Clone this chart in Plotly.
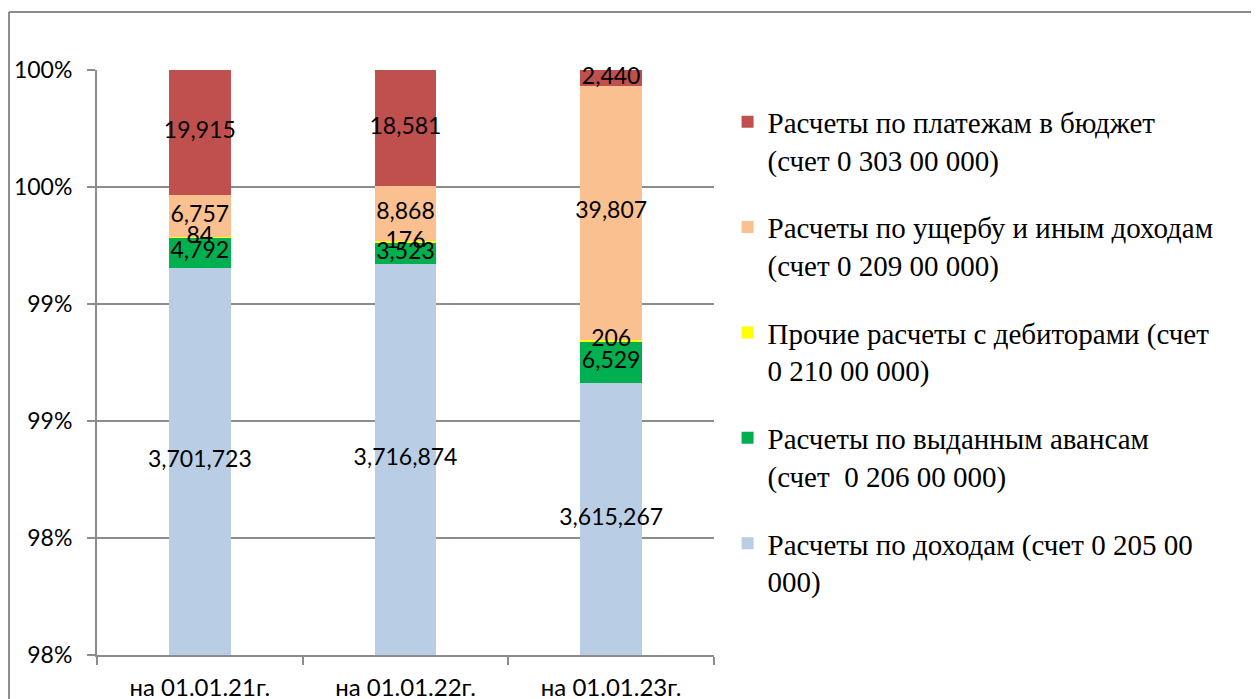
import numpy as np
import plotly.graph_objects as go

# data
dates = ["на 01.01.21г.", "на 01.01.22г.", "на 01.01.23г."]
income = [3701723, 3716874, 3615267]        # 0 205 00 000
advances = [4792, 3523, 6529]               # 0 206 00 000
other = [84, 176, 206]                      # 0 210 00 000
damage = [6757, 8868, 39807]                # 0 209 00 000
budget = [19915, 18581, 2440]               # 0 303 00 000

names = [
    "Расчеты по доходам (счет 0 205 00<br>000)",
    "Расчеты по выданным авансам<br>(счет  0 206 00 000)",
    "Прочие расчеты с дебиторами (счет<br>0 210 00 000)",
    "Расчеты по ущербу и иным доходам<br>(счет 0 209 00 000)",
    "Расчеты по платежам в бюджет<br>(счет 0 303 00 000)",
]
colors = ["#b9cde5", "#00b050", "#ffff00", "#fac090", "#c0504d"]

y_ticks = [97.5, 98, 98.5, 99, 99.5, 100]
y_tick_text = ["98%", "98%", "99%", "99%", "100%", "100%"]

GRID = "#8c8c8c"
TEXT = "#000000"
LABEL_FONT = dict(family="Lato, sans-serif", size=23, color=TEXT)
YMIN, YMAX = 97.5, 100

series = [income, advances, other, damage, budget]

fig = go.Figure()
for i, (vals, name, col) in enumerate(zip(series, names, colors)):
    fig.add_trace(go.Bar(
        x=dates, y=vals, name=name, marker=dict(color=col, line=dict(width=0)),
        legendgroup=f"g{i}", legendrank=len(series) - i, hoverinfo="skip",
    ))

# data labels: centred on the visible part of each segment
arr = np.array(series, dtype=float)
pct = arr / arr.sum(axis=0) * 100
top = np.cumsum(pct, axis=0)
bot = top - pct
lo = np.clip(bot, YMIN, YMAX)
hi = np.clip(top, YMIN, YMAX)
mid = (lo + hi) / 2
for i, vals in enumerate(series):
    fig.add_trace(go.Scatter(
        x=dates, y=mid[i], mode="text",
        text=[f"{v:,}" for v in vals],
        textfont=LABEL_FONT, textposition="middle center",
        showlegend=False, hoverinfo="skip", cliponaxis=False,
    ))

fig.update_layout(
    width=1251, height=691,
    barmode="stack", barnorm="percent", bargap=0.7,
    paper_bgcolor="white", plot_bgcolor="white",
    font=dict(family="Lato, sans-serif", size=22, color=TEXT),
    margin=dict(l=89, r=545, t=62, b=44, autoexpand=False),
    showlegend=True,
    legend=dict(
        x=1.022, y=0.955, xanchor="left", yanchor="top",
        traceorder="grouped", tracegroupgap=27, valign="top",
        font=dict(family="Liberation Serif, Times New Roman, serif", size=29, color=TEXT),
        bgcolor="rgba(0,0,0,0)",
    ),
    xaxis=dict(
        showline=True, linecolor=GRID, linewidth=2, automargin=False,
        ticks="outside", ticklen=8, tickcolor=GRID, tickwidth=2,
        tickson="boundaries", showgrid=False, ticklabelstandoff=10,
        tickfont=dict(family="Lato, sans-serif", size=24, color=TEXT),
    ),
    yaxis=dict(
        range=[YMIN, YMAX], tickvals=y_ticks, ticktext=y_tick_text,
        showline=True, linecolor=GRID, linewidth=2, automargin=False,
        ticks="outside", ticklen=8, tickcolor=GRID, tickwidth=2,
        showgrid=True, gridcolor=GRID, gridwidth=1.5, zeroline=False,
        ticklabelstandoff=10, tickfont=LABEL_FONT,
    ),
    shapes=[
        dict(type="line", xref="paper", yref="paper",
             x0=-0.1426, x1=-0.1426, y0=-0.2, y1=1.099,
             line=dict(color=GRID, width=2)),
        dict(type="line", xref="paper", yref="paper",
             x0=-0.1426, x1=2.0, y0=1.099, y1=1.099,
             line=dict(color=GRID, width=2)),
    ],
)

fig.write_html("out.html")
